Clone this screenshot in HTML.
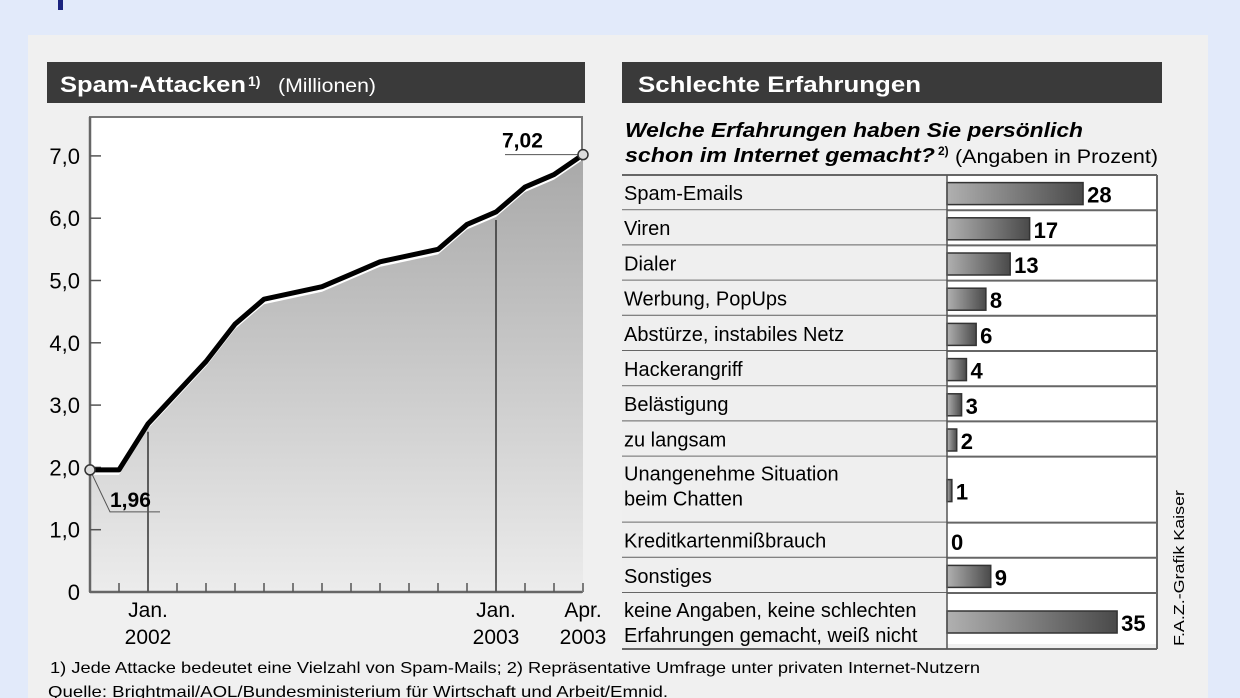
<!DOCTYPE html>
<html><head><meta charset="utf-8"><style>
html,body{margin:0;padding:0;background:#e2eafa;}
svg{display:block;font-family:"Liberation Sans Narrow","Liberation Sans",sans-serif;}
</style></head><body>
<svg id="svg" width="1240" height="698" viewBox="0 0 1240 698" xmlns="http://www.w3.org/2000/svg">
<defs>
<linearGradient id="area" x1="0" y1="0" x2="0" y2="1">
<stop offset="0" stop-color="#a9a9a9"/><stop offset="1" stop-color="#ececec"/></linearGradient>
<linearGradient id="bar" x1="0" y1="0" x2="1" y2="0">
<stop offset="0" stop-color="#b0b0b0"/><stop offset="1" stop-color="#4a4a4a"/></linearGradient>
</defs>
<rect x="0" y="0" width="1240" height="698" fill="#e2eafa"/>
<rect x="58" y="0" width="5" height="10" fill="#1a237e"/>
<rect x="28" y="35" width="1180" height="663" fill="#f0f0f0"/>

<g>
<rect x="47" y="62" width="538" height="41" fill="#3a3a3a"/>
<text x="60" y="92" fill="#fff" font-size="22" font-weight="bold" textLength="186" lengthAdjust="spacingAndGlyphs">Spam-Attacken</text>
<text x="248" y="86" fill="#fff" font-size="14" font-weight="bold">1)</text>
<text x="278" y="92" fill="#fff" font-size="19" textLength="98" lengthAdjust="spacingAndGlyphs">(Millionen)</text>
</g>
<g>
<rect x="622" y="62" width="540" height="41" fill="#3a3a3a"/>
<text x="638" y="92" fill="#fff" font-size="22" font-weight="bold" textLength="283" lengthAdjust="spacingAndGlyphs">Schlechte Erfahrungen</text>
</g>

<g id="line"></g>
<g id="bars"></g>

<g>
<text x="625" y="137" font-size="20" font-weight="bold" font-style="italic" textLength="458" lengthAdjust="spacingAndGlyphs">Welche Erfahrungen haben Sie persönlich</text>
<text x="625" y="162" font-size="20" font-weight="bold" font-style="italic" textLength="310" lengthAdjust="spacingAndGlyphs">schon im Internet gemacht?</text>
<text x="938" y="155" font-size="12" font-weight="bold">2)</text>
<text x="955" y="163" font-size="19" textLength="203" lengthAdjust="spacingAndGlyphs">(Angaben in Prozent)</text>
</g>

<text transform="translate(1184,646) rotate(-90)" font-size="15" textLength="156" lengthAdjust="spacingAndGlyphs">F.A.Z.-Grafik Kaiser</text>

<g>
<text x="50" y="673" font-size="16" textLength="930" lengthAdjust="spacingAndGlyphs">1) Jede Attacke bedeutet eine Vielzahl von Spam-Mails; 2) Repräsentative Umfrage unter privaten Internet-Nutzern</text>
<text x="48" y="697" font-size="16" textLength="620" lengthAdjust="spacingAndGlyphs">Quelle: Brightmail/AOL/Bundesministerium für Wirtschaft und Arbeit/Emnid.</text>
</g>
</svg>
<script>
const NS="http://www.w3.org/2000/svg";
const months=["Nov01","Dec01","Jan02","Feb02","Mar02","Apr02","May02","Jun02","Jul02","Aug02","Sep02","Oct02","Nov02","Dec02","Jan03","Feb03","Mar03","Apr03"];
const attacks=[1.96,1.96,2.7,3.2,3.7,4.3,4.7,4.8,4.9,5.1,5.3,5.4,5.5,5.9,6.1,6.5,6.7,7.02];
const yTicks=[0,1,2,3,4,5,6,7];
const yTickLabels=["0","1,0","2,0","3,0","4,0","5,0","6,0","7,0"];
const xLabelIdx=[2,14,17];
const xLabels=[["Jan.","2002"],["Jan.","2003"],["Apr.","2003"]];
const cats=[["Spam-Emails"],["Viren"],["Dialer"],["Werbung, PopUps"],["Abstürze, instabiles Netz"],["Hackerangriff"],["Belästigung"],["zu langsam"],["Unangenehme Situation","beim Chatten"],["Kreditkartenmißbrauch"],["Sonstiges"],["keine Angaben, keine schlechten","Erfahrungen gemacht, weiß nicht"]];
const pct=[28,17,13,8,6,4,3,2,1,0,9,35];

function el(t,a,p){const e=document.createElementNS(NS,t);for(const k in a)e.setAttribute(k,a[k]);p.appendChild(e);return e;}
const L=document.getElementById("line");
const X0=90,XS=29,Y0=592,YS=62.3;
const xs=i=>X0+i*XS, ys=v=>Y0-v*YS;
let b=el("rect",{x:90,y:117,width:492,height:475,fill:"#fff",stroke:"#777","stroke-width":2},L);


let d="M"+xs(0)+","+Y0;
attacks.forEach((v,i)=>{d+=" L"+xs(i)+","+(ys(v)+5);});
d+=" L"+xs(attacks.length-1)+","+Y0+" Z";
let a=el("path",{d:d,fill:"url(#area)"},L);


[2,14].forEach(i=>{const g=el("line",{x1:xs(i),x2:xs(i),y1:ys(attacks[i])+8,y2:Y0,stroke:"#333","stroke-width":1.5},L);

});
el("line",{x1:90,x2:582,y1:Y0,y2:Y0,stroke:"#666","stroke-width":2.5},L);
el("line",{x1:90,x2:90,y1:117,y2:Y0,stroke:"#666","stroke-width":2.5},L);
months.forEach((m,i)=>{if(i>0){const t=el("line",{x1:xs(i),x2:xs(i),y1:Y0-9,y2:Y0,stroke:"#555","stroke-width":1.5},L);

}});
yTicks.forEach((v,i)=>{if(v>0){el("line",{x1:90,x2:101,y1:ys(v),y2:ys(v),stroke:"#555","stroke-width":1.5},L);}
const t=el("text",{x:80,y:ys(v)+8,"font-size":22,"text-anchor":"end"},L);t.textContent=yTickLabels[i];

});
xLabelIdx.forEach((idx,j)=>{xLabels[j].forEach((s,k)=>{const t=el("text",{x:xs(idx),y:617+k*27,"font-size":21,"text-anchor":"middle"},L);t.textContent=s;

});});
let pts=attacks.map((v,i)=>xs(i)+","+ys(v)).join(" ");
let ln=el("polyline",{points:pts,fill:"none",stroke:"#000","stroke-width":5,"stroke-linejoin":"round"},L);


const n=attacks.length-1;
el("polyline",{points:(xs(0)+","+ys(attacks[0]))+" "+(xs(0)+20)+","+(ys(attacks[0])+42)+" "+(xs(0)+70)+","+(ys(attacks[0])+42),fill:"none",stroke:"#555","stroke-width":1},L);
el("line",{x1:xs(n)-78,x2:xs(n),y1:ys(attacks[n]),y2:ys(attacks[n]),stroke:"#555","stroke-width":1},L);
[0,n].forEach(i=>{const c=el("circle",{cx:xs(i),cy:ys(attacks[i]),r:5,fill:"#ddd",stroke:"#333","stroke-width":1.5},L);

});
let t1=el("text",{x:xs(0)+20,y:ys(attacks[0])+37,"font-size":21,"font-weight":"bold"},L);t1.textContent=attacks[0].toFixed(2).replace(".",",");


let t2=el("text",{x:xs(n)-81,y:ys(attacks[n])-7,"font-size":21,"font-weight":"bold"},L);t2.textContent=attacks[n].toFixed(2).replace(".",",");



const B=document.getElementById("bars");
const TX=622,TW=535,LX=947,PX=4.86;
let y=175;
el("rect",{x:TX,y:175,width:TW,height:469,fill:"#fff"},B);
cats.forEach((c,i)=>{
 const h=c.length>1?(i===11?56:66):35.2;
 const g=el("g",{},B);
 
 
 el("rect",{x:TX,y:y,width:LX-TX,height:h,fill:"#efefef"},g);
 el("line",{x1:TX,x2:TX+TW,y1:y+h,y2:y+h,stroke:"#666","stroke-width":2},g);
 c.forEach((s,k)=>{const t=el("text",{x:TX+2,y:y+(c.length>1?24+k*25:25),"font-size":20},g);t.textContent=s;
 
 });
 const bh=22,by=y+h/2-bh/2+1;
 if(pct[i]>0){const r=el("rect",{x:LX,y:by,width:pct[i]*PX,height:bh,fill:"url(#bar)",stroke:"#333","stroke-width":1.5},g);
 
 }
 const v=el("text",{x:LX+pct[i]*PX+4,y:by+20,"font-size":22,"font-weight":"bold"},g);v.textContent=pct[i];
 
 
 y+=h;
});
el("line",{x1:TX,x2:TX+TW,y1:175,y2:175,stroke:"#666","stroke-width":2},B);
el("line",{x1:LX,x2:LX,y1:175,y2:y,stroke:"#555","stroke-width":1.5},B);
el("line",{x1:TX+TW,x2:TX+TW,y1:175,y2:y,stroke:"#666","stroke-width":2},B);
</script>
</body></html>
